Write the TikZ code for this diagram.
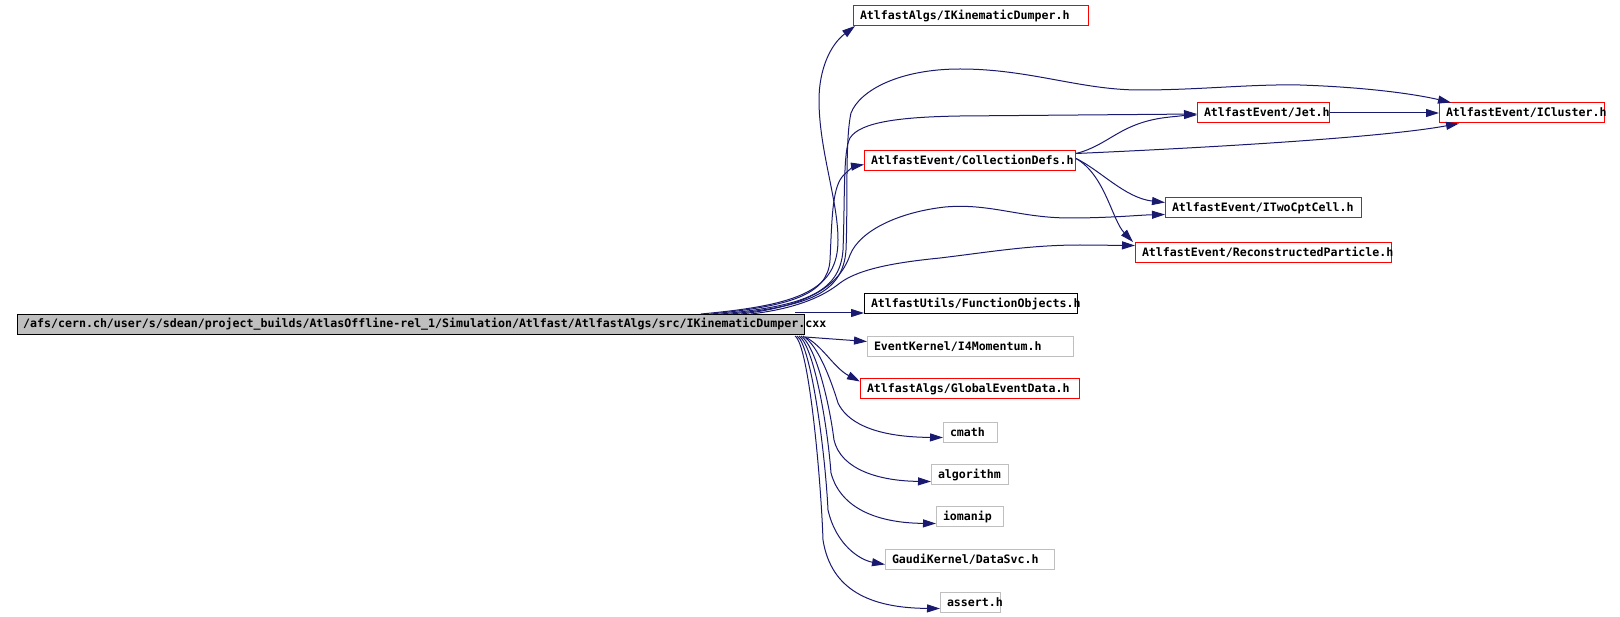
\documentclass[tikz,border=0pt]{standalone}
\usepackage{fontspec}
\newfontfamily\incfont{DejaVu Sans Mono}[HyphenChar=None]
\usetikzlibrary{arrows.meta,calc}
\definecolor{edgeblue}{HTML}{191970}
\definecolor{boxred}{HTML}{FF0000}
\definecolor{boxgray}{HTML}{BFBFBF}
\tikzset{
  lbl/.style={font={\fontsize{11.6pt}{13pt}\incfont\bfseries}},
  inc/.style={lbl, draw, line width=1pt, inner xsep=6.5pt, inner ysep=0pt,
    anchor=north west, minimum height=20pt, text height=9.5pt, text depth=1.5pt, align=left},
  redbox/.style={inc, draw=boxred},
  graybox/.style={inc, draw=boxgray},
  blackbox/.style={inc, draw=black},
  edge/.style={draw=edgeblue, line width=1pt, -{Triangle[length=13pt,width=8pt]}}
}
\begin{document}
\begin{tikzpicture}[x=1pt,y=-1pt]
\useasboundingbox (0,0) rectangle (1620,617);
% main node
\node[draw=black, fill=boxgray, line width=1pt, anchor=north west, minimum width=787pt, minimum height=20pt, inner sep=0pt] (main) at (17,314) {};
\node[lbl, anchor=base west, inner sep=0pt] (maintext) at (23,328) {/afs/cern.ch/user/s/sdean/project\_builds/AtlasOffline-rel\_1/Simulation/Atlfast/AtlfastAlgs/src/IKinematicDumper.cxx};
% included files
\node[redbox, text width=222pt] (ikd) at (853,5) {AtlfastAlgs/IKinematicDumper.h};
\node[redbox, text width=198pt] (coll) at (864,150) {AtlfastEvent/CollectionDefs.h};
\node[redbox, text width=119pt] (jet) at (1197,102.5) {AtlfastEvent/Jet.h};
\node[redbox, text width=152pt] (icl) at (1439,102.5) {AtlfastEvent/ICluster.h};
\node[redbox, text width=183pt] (itwo) at (1165,197) {AtlfastEvent/ITwoCptCell.h};
\node[redbox, text width=243pt] (reco) at (1135,242) {AtlfastEvent/ReconstructedParticle.h};
\node[blackbox, text width=200pt] (func) at (864,293) {AtlfastUtils/FunctionObjects.h};
\node[graybox, text width=193pt] (i4m) at (867,336) {EventKernel/I4Momentum.h};
\node[redbox, text width=206pt] (glob) at (860,378) {AtlfastAlgs/GlobalEventData.h};
\node[graybox, text width=41pt] (cmath) at (943,422) {cmath};
\node[graybox, text width=64pt] (algo) at (931,464) {algorithm};
\node[graybox, text width=54pt] (ioman) at (936,506) {iomanip};
\node[graybox, text width=156pt] (datasvc) at (885,549) {GaudiKernel/DataSvc.h};
\node[graybox, text width=47pt] (assert) at (940,592) {assert.h};
% edges from main, upper group
\draw[edge] ($(main.north east)+(-104,0)$) .. controls (800,305) and (838,290) .. (838,240)
  .. controls (838,200) and (819,150) .. (819,100) .. controls (819,70) and (830,45) .. ($(ikd.south west)+(2,0)$);
\draw[edge] ($(main.north east)+(-94,0)$) .. controls (790,306) and (828,295) .. (830,260)
  .. controls (832,220) and (832,190) .. (842,177) .. controls (847,171) and (855,166) .. ($(coll.west)+(0,4)$);
\draw[edge] ($(main.north east)+(-84,0)$) .. controls (800,306) and (840,295) .. (843,250)
  .. controls (845,200) and (843,150) .. (850,138) .. controls (860,122) and (900,117) .. (960,116) -- ($(jet.west)+(0,1)$);
\draw[edge] ($(main.north east)+(-74,0)$) .. controls (805,306) and (843,295) .. (846,250)
  .. controls (848,200) and (845,140) .. (851,113) .. controls (860,90) and (900,69) .. (960,69)
  .. controls (1030,69) and (1080,90) .. (1140,90) .. controls (1200,90) and (1250,84) .. (1300,85)
  .. controls (1360,87) and (1410,93) .. ($(icl.north west)+(12,0)$);
\draw[edge] ($(main.north east)+(-64,0)$) .. controls (800,307) and (838,290) .. (850,255)
  .. controls (860,230) and (900,212) .. (945,207) .. controls (990,203) and (1020,218) .. (1070,218)
  .. controls (1110,218) and (1140,215) .. ($(itwo.west)+(0,7)$);
\draw[edge] ($(main.north east)+(-54,0)$) .. controls (800,308) and (825,295) .. (840,283)
  .. controls (860,268) and (900,262) .. (940,258) .. controls (990,252) and (1030,245) .. (1080,245) -- ($(reco.west)+(0,-7)$);
% edges from main, lower group
\draw[edge] ($(main.north east)+(-10,-1)$) -- ($(func.south west)+(0,-1)$);
\draw[edge] ($(main.south east)+(0,2)$) -- ($(i4m.west)+(0,-5)$);
\draw[edge] ($(main.south east)+(0,2)$) .. controls (822,345) and (834,368) .. ($(glob.west)+(0,-7)$);
\draw[edge] ($(main.south east)+(-2,1)$) .. controls (818,345) and (831,380) .. (838,403)
  .. controls (846,420) and (870,437) .. ($(cmath.west)+(0,5)$);
\draw[edge] ($(main.south east)+(-4,1)$) .. controls (815,345) and (829,400) .. (834,440)
  .. controls (841,470) and (880,481) .. ($(algo.west)+(0,7)$);
\draw[edge] ($(main.south east)+(-6,1)$) .. controls (813,345) and (827,420) .. (831,473)
  .. controls (841,510) and (880,523) .. ($(ioman.west)+(0,7)$);
\draw[edge] ($(main.south east)+(-8,1)$) .. controls (811,345) and (825,450) .. (828,510)
  .. controls (836,545) and (860,560) .. ($(datasvc.west)+(0,5)$);
\draw[edge] ($(main.south east)+(-10,1)$) .. controls (809,345) and (821,480) .. (823,540)
  .. controls (831,590) and (870,608) .. ($(assert.west)+(0,6)$);
% edges from CollectionDefs
\draw[edge] ($(coll.east)+(0,-7)$) .. controls (1110,145) and (1120,122) .. (1170,117)
  .. controls (1180,116) and (1190,115) .. ($(jet.west)+(0,2)$);
\draw[edge] ($(coll.east)+(0,-7)$) .. controls (1200,148) and (1380,138) .. ($(icl.south west)+(20,0)$);
\draw[edge] ($(coll.east)+(0,-2)$) .. controls (1100,170) and (1125,198) .. ($(itwo.west)+(0,-5)$);
\draw[edge] ($(coll.east)+(0,-2)$) .. controls (1105,175) and (1112,220) .. ($(reco.north west)+(-2,0)$);
% Jet to ICluster
\draw[edge] (jet.east) -- (icl.west);
\end{tikzpicture}
\end{document}
